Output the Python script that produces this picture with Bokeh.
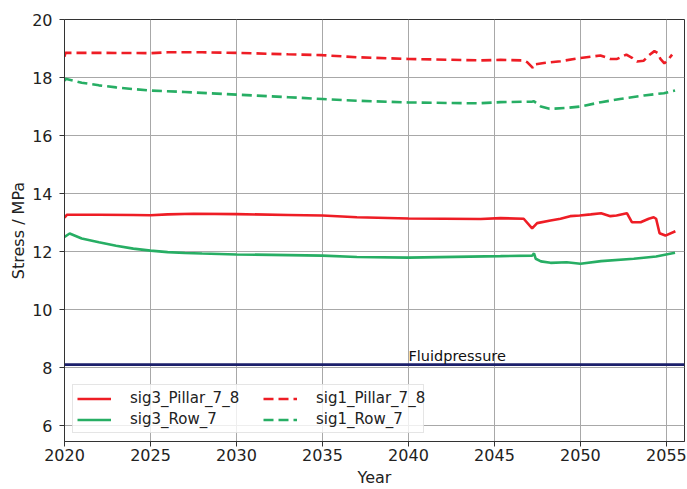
from bokeh.plotting import figure
from bokeh.models import Legend, LegendItem, Range1d, FixedTicker, Label, Span
from bokeh.embed import file_html
from bokeh.resources import INLINE

# Minimum principal stress (sig3) in pillar 7/8
sig3_pillar_year = [2020.0, 2020.15, 2020.3, 2022.0, 2024.0, 2025.0, 2026.0, 2027.5, 2030.0,
                    2033.0, 2035.0, 2037.0, 2040.0, 2044.2, 2045.35, 2046.7, 2047.19, 2047.48,
                    2048.26, 2048.84, 2049.4, 2049.96, 2050.6, 2051.2, 2051.74, 2052.1, 2052.7,
                    2052.99, 2053.5, 2053.97, 2054.26, 2054.4, 2054.6, 2054.94, 2055.52]
sig3_pillar = [13.17, 13.27, 13.27, 13.27, 13.26, 13.25, 13.28, 13.30, 13.29,
               13.26, 13.24, 13.18, 13.14, 13.12, 13.15, 13.13, 12.80, 12.98,
               13.07, 13.13, 13.22, 13.24, 13.28, 13.32, 13.22, 13.24, 13.32,
               13.01, 13.01, 13.13, 13.18, 13.13, 12.63, 12.55, 12.70]

# Minimum principal stress (sig3) in row 7
sig3_row_year = [2020.0, 2020.3, 2021.0, 2022.0, 2023.0, 2024.0, 2025.0, 2026.0, 2027.0,
                 2028.0, 2030.0, 2035.0, 2037.0, 2040.0, 2045.35, 2047.2, 2047.3, 2047.4,
                 2047.7, 2048.26, 2049.2, 2050.0, 2051.2, 2053.1, 2054.4, 2055.5]
sig3_row = [12.50, 12.62, 12.45, 12.32, 12.20, 12.10, 12.03, 11.98, 11.95,
            11.93, 11.90, 11.86, 11.81, 11.79, 11.84, 11.86, 11.94, 11.75,
            11.66, 11.61, 11.63, 11.58, 11.67, 11.75, 11.83, 11.96]

# Maximum principal stress (sig1) in pillar 7/8
sig1_pillar_year = [2020.0, 2020.05, 2022.0, 2025.0, 2026.0, 2028.0, 2030.0, 2033.0, 2035.0,
                    2037.0, 2040.0, 2044.2, 2045.35, 2046.7, 2046.9, 2047.23, 2047.3, 2047.87,
                    2048.84, 2049.96, 2051.16, 2051.74, 2052.13, 2052.67, 2053.0, 2053.29,
                    2053.68, 2053.97, 2054.3, 2054.5, 2054.65, 2054.88, 2055.13, 2055.33]
sig1_pillar = [18.72, 18.85, 18.85, 18.84, 18.87, 18.87, 18.85, 18.80, 18.77,
               18.70, 18.64, 18.59, 18.61, 18.59, 18.53, 18.33, 18.45, 18.50,
               18.56, 18.67, 18.76, 18.64, 18.64, 18.79, 18.68, 18.55,
               18.58, 18.76, 18.91, 18.84, 18.64, 18.49, 18.64, 18.79]

# Maximum principal stress (sig1) in row 7
sig1_row_year = [2020.0, 2020.05, 2021.0, 2022.0, 2023.0, 2024.0, 2025.0, 2027.0, 2030.0,
                 2033.0, 2035.0, 2037.0, 2040.0, 2044.0, 2045.35, 2047.2, 2047.3, 2047.7,
                 2048.2, 2049.2, 2050.0, 2051.2, 2052.3, 2053.7, 2054.85, 2055.5]
sig1_row = [17.88, 17.96, 17.82, 17.73, 17.66, 17.60, 17.55, 17.50, 17.41,
            17.32, 17.26, 17.20, 17.14, 17.11, 17.15, 17.17, 17.18, 17.00,
            16.92, 16.95, 17.00, 17.15, 17.26, 17.38, 17.46, 17.55]

fluid_pressure = 8.1

x_ticks = [2020, 2025, 2030, 2035, 2040, 2045, 2050, 2055]
y_ticks = [6, 8, 10, 12, 14, 16, 18, 20]

RED = "#ee1d25"
GREEN = "#27ae64"
NAVY = "#1b1f6b"
FONT = "DejaVu Sans"

p = figure(width=687, height=489, output_backend="svg", toolbar_location=None,
           x_range=Range1d(2020, 2056.05), y_range=Range1d(5.45, 20.0),
           min_border_left=64, min_border_right=3, min_border_top=19, min_border_bottom=0)

p.background_fill_color = "white"
p.border_fill_color = "white"
p.outline_line_color = "#333333"
p.outline_line_width = 1

for ax, ticks in ((p.xaxis, x_ticks), (p.yaxis, y_ticks)):
    ax.ticker = FixedTicker(ticks=ticks)
    ax.minor_tick_line_color = None
    ax.major_tick_in = 0
    ax.major_tick_out = 5
    ax.major_tick_line_color = "#333333"
    ax.axis_line_color = "#333333"
    ax.major_label_text_font = FONT
    ax.major_label_text_font_size = "16px"
    ax.major_label_text_color = "#222222"
    ax.axis_label_text_font = FONT
    ax.axis_label_text_font_size = "16px"
    ax.axis_label_text_font_style = "normal"
    ax.axis_label_text_color = "#222222"

p.xaxis.axis_label = "Year"
p.yaxis.axis_label = "Stress / MPa"
p.xaxis.major_label_standoff = 2
p.yaxis.major_label_standoff = 7
p.xaxis.axis_label_standoff = 4
p.yaxis.axis_label_standoff = 1

p.grid.grid_line_color = "#a8a8a8"
p.grid.grid_line_width = 1
p.grid.grid_line_alpha = 1.0

r_s3p = p.line(sig3_pillar_year, sig3_pillar, line_color=RED, line_width=2.6)
r_s3r = p.line(sig3_row_year, sig3_row, line_color=GREEN, line_width=2.6)
r_s1p = p.line(sig1_pillar_year, sig1_pillar, line_color=RED, line_width=2.6, line_dash="10 5")
r_s1r = p.line(sig1_row_year, sig1_row, line_color=GREEN, line_width=2.6, line_dash="10 5")

# Fluid pressure reference level
p.add_layout(Span(location=fluid_pressure, dimension="width", line_color=NAVY, line_width=2.8))
p.add_layout(Label(x=2040.0, y=fluid_pressure, y_offset=1, text="Fluidpressure",
                   text_font=FONT, text_font_size="14.5px", text_color="#111111",
                   text_baseline="bottom"))


def styled_legend(items, loc, framed, label_width):
    lg = Legend(items=items, location=loc)
    lg.label_text_font = FONT
    lg.label_text_font_size = "15px"
    lg.label_text_color = "#222222"
    lg.glyph_width = 34
    lg.glyph_height = 17
    lg.label_height = 17
    lg.label_width = label_width
    lg.label_standoff = 19
    lg.spacing = 3
    lg.padding = 4
    lg.margin = 0
    if framed:
        lg.border_line_color = "#cccccc"
        lg.border_line_width = 1
        lg.background_fill_color = "white"
        lg.background_fill_alpha = 0.8
    else:
        lg.border_line_color = None
        lg.background_fill_alpha = 0.0
    return lg


# Two-column legend: the first column carries the shared frame
legend_left = styled_legend([
    LegendItem(label="sig3_Pillar_7_8", renderers=[r_s3p]),
    LegendItem(label="sig3_Row_7", renderers=[r_s3r]),
], (8, 8), True, 289)
legend_right = styled_legend([
    LegendItem(label="sig1_Pillar_7_8", renderers=[r_s1p]),
    LegendItem(label="sig1_Row_7", renderers=[r_s1r]),
], (199, 13), False, 20)
p.add_layout(legend_left)
p.add_layout(legend_right)

open("out.html", "w").write(file_html(p, INLINE))
